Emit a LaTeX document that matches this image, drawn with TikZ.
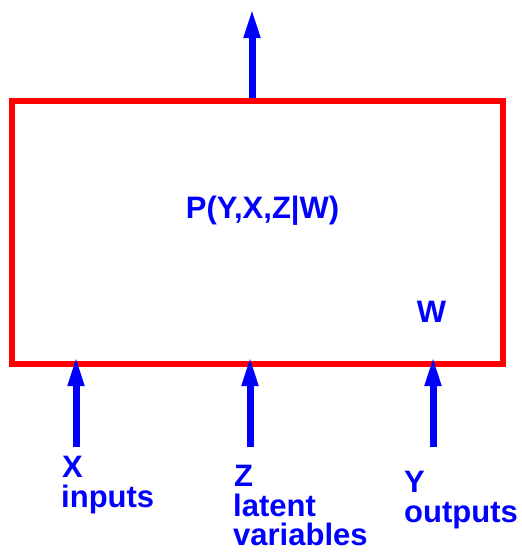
\documentclass[tikz,border=0pt]{standalone}
\usepackage{fontspec}
\setmainfont{Liberation Sans}
\usetikzlibrary{arrows.meta}
\definecolor{myblue}{RGB}{0,0,255}
\definecolor{myred}{RGB}{255,0,0}
\begin{document}
\begin{tikzpicture}[x=1pt,y=-1pt,
  lbl/.style={inner sep=0pt,anchor=base west,text=myblue,font=\fontsize{31}{31}\selectfont\bfseries},
  flow/.style={draw=myblue,line width=7pt,-{Triangle[width=15pt,length=30pt]}},
  frame/.style={draw=myred,line width=6pt,minimum width=491pt,minimum height=263pt,inner sep=0pt}]
\useasboundingbox (0,0) rectangle (522,552);
\node[frame] (box) at (257.5,232.5) {};
\node[lbl,anchor=base] (p) at (262.5,218) {P(Y,X,Z|W)};
\node[lbl,anchor=base] (w) at (431.5,322) {W};
\coordinate (top) at (252,8);
\coordinate (xs) at (76,447);
\coordinate (xt) at (76,356);
\coordinate (zs) at (250,447);
\coordinate (zt) at (250,356);
\coordinate (ys) at (433,447);
\coordinate (yt) at (433,356);
\draw[flow] (box.north -| top) -- (top);
\draw[flow] (xs) -- (xt);
\draw[flow] (zs) -- (zt);
\draw[flow] (ys) -- (yt);
\node[lbl] (x1) at (62,477) {X};
\node[lbl] (x2) at (61,507) {inputs};
\node[lbl] (z1) at (234,486) {Z};
\node[lbl] (z2) at (233,516) {latent};
\node[lbl] (z3) at (233,545) {variables};
\node[lbl] (y1) at (404,492) {Y};
\node[lbl] (y2) at (404,522) {outputs};
\end{tikzpicture}
\end{document}
